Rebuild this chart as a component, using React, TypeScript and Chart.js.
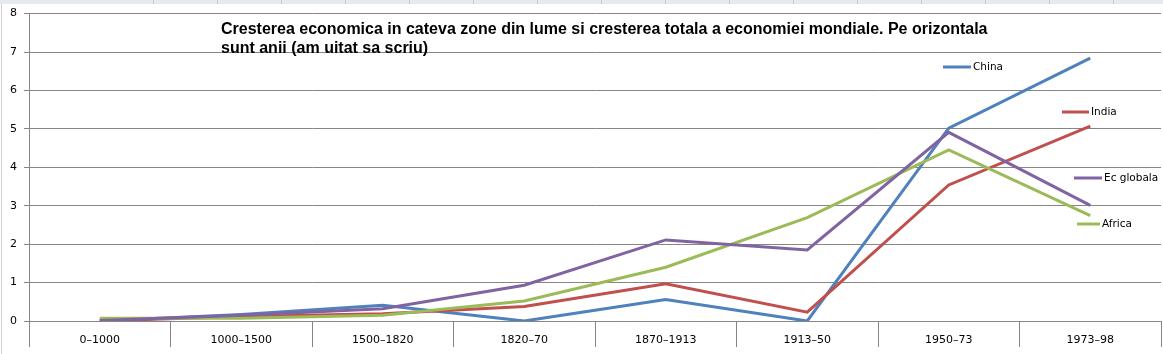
import React, { useEffect, useRef } from "react";
import { Chart, registerables } from "chart.js";

Chart.register(...registerables);

const categories = ["0–1000", "1000–1500", "1500–1820", "1820–70", "1870–1913", "1913–50", "1950–73", "1973–98"];
const china = [0.0, 0.17, 0.41, 0.0, 0.56, 0.0, 5.02, 6.84];
const india = [0.0, 0.12, 0.19, 0.38, 0.97, 0.23, 3.54, 5.07];
const africa = [0.07, 0.07, 0.15, 0.52, 1.4, 2.69, 4.45, 2.74];
const world = [0.01, 0.15, 0.32, 0.93, 2.11, 1.85, 4.91, 3.01];

const titleLines = [
  "Cresterea economica in cateva zone din lume si cresterea totala a economiei mondiale. Pe orizontala",
  "sunt anii (am uitat sa scriu)",
];

const COLORS = { china: "#4F81BD", india: "#C0504D", africa: "#9BBB59", world: "#8064A2" };
const GRID = "#868686";
const AXIS_FONT = "DejaVu Sans";

// legend entry placement (pixels): line start/end x, y
const legendPlacement: Record<string, { x1: number; x2: number; y: number }> = {
  China: { x1: 943, x2: 971, y: 67 },
  India: { x1: 1062, x2: 1089, y: 112 },
  "Ec globala": { x1: 1074, x2: 1102, y: 178 },
  Africa: { x1: 1077, x2: 1100, y: 224 },
};

const decorPlugin = {
  id: "decor",
  beforeDraw(chart: any) {
    const ctx = chart.ctx;
    ctx.save();
    ctx.fillStyle = "#e6e9ed";
    ctx.fillRect(0, 0, chart.width, 4);
    ctx.strokeStyle = "#c9cdd2";
    ctx.lineWidth = 1;
    for (let x = 153; x < chart.width; x += 64) {
      ctx.beginPath();
      ctx.moveTo(x + 0.5, 0);
      ctx.lineTo(x + 0.5, 4);
      ctx.stroke();
    }
    ctx.strokeStyle = "#d0d0d0";
    ctx.beginPath();
    ctx.moveTo(1.5, 4);
    ctx.lineTo(1.5, chart.height);
    ctx.stroke();
    ctx.restore();
  },
  afterDraw(chart: any) {
    const ctx = chart.ctx;
    ctx.save();
    ctx.fillStyle = "#000";
    ctx.font = "bold 16px 'Liberation Sans', Arial, sans-serif";
    ctx.textBaseline = "alphabetic";
    ctx.textAlign = "left";
    titleLines.forEach((line, i) => ctx.fillText(line, 221, 34 + i * 19));
    ctx.font = `10.5px '${AXIS_FONT}', sans-serif`;
    ctx.textBaseline = "middle";
    chart.data.datasets.forEach((ds: any) => {
      const p = legendPlacement[ds.label];
      if (!p) return;
      ctx.strokeStyle = ds.borderColor;
      ctx.lineWidth = 3;
      ctx.beginPath();
      ctx.moveTo(p.x1, p.y);
      ctx.lineTo(p.x2, p.y);
      ctx.stroke();
      ctx.fillStyle = "#000";
      ctx.fillText(ds.label, p.x2 + 2, p.y);
    });
    ctx.restore();
  },
};

export default function App() {
  const ref = useRef<HTMLCanvasElement | null>(null);
  useEffect(() => {
    if (!ref.current) return;
    const mk = (label: string, data: number[], color: string, order: number) => ({
      label,
      data,
      borderColor: color,
      backgroundColor: color,
      borderWidth: 3,
      pointRadius: 0,
      tension: 0,
      order,
    });
    const chart = new Chart(ref.current, {
      type: "line",
      data: {
        labels: categories,
        datasets: [
          mk("China", china, COLORS.china, 3),
          mk("India", india, COLORS.india, 2),
          mk("Ec globala", world, COLORS.world, 0),
          mk("Africa", africa, COLORS.africa, 1),
        ],
      },
      options: {
        responsive: false,
        animation: false,
        layout: { padding: { top: 9, right: 2, left: 0, bottom: 0 } },
        plugins: { legend: { display: false }, title: { display: false }, tooltip: { enabled: false } },
        scales: {
          x: {
            offset: true,
            grid: { offset: true, drawOnChartArea: false, color: GRID, tickLength: 26, lineWidth: 1 },
            border: { color: GRID },
            ticks: {
              autoSkip: false,
              maxRotation: 0,
              padding: -13,
              color: "#000",
              font: { family: AXIS_FONT, size: 11 },
            },
            afterFit: (s: any) => {
              s.height = 33;
            },
          },
          y: {
            min: 0,
            max: 8,
            ticks: { stepSize: 1, color: "#000", padding: 7, font: { family: AXIS_FONT, size: 11 } },
            grid: { color: GRID, tickLength: 5, lineWidth: 1 },
            border: { color: GRID },
            afterFit: (s: any) => {
              s.width = 29;
            },
          },
        },
      },
      plugins: [decorPlugin],
    });
    return () => chart.destroy();
  }, []);
  return (
    <div style={{ position: "absolute", left: 0, top: 0, width: 1163, height: 354, background: "#fff" }}>
      <canvas ref={ref} width={1163} height={354} />
    </div>
  );
}
